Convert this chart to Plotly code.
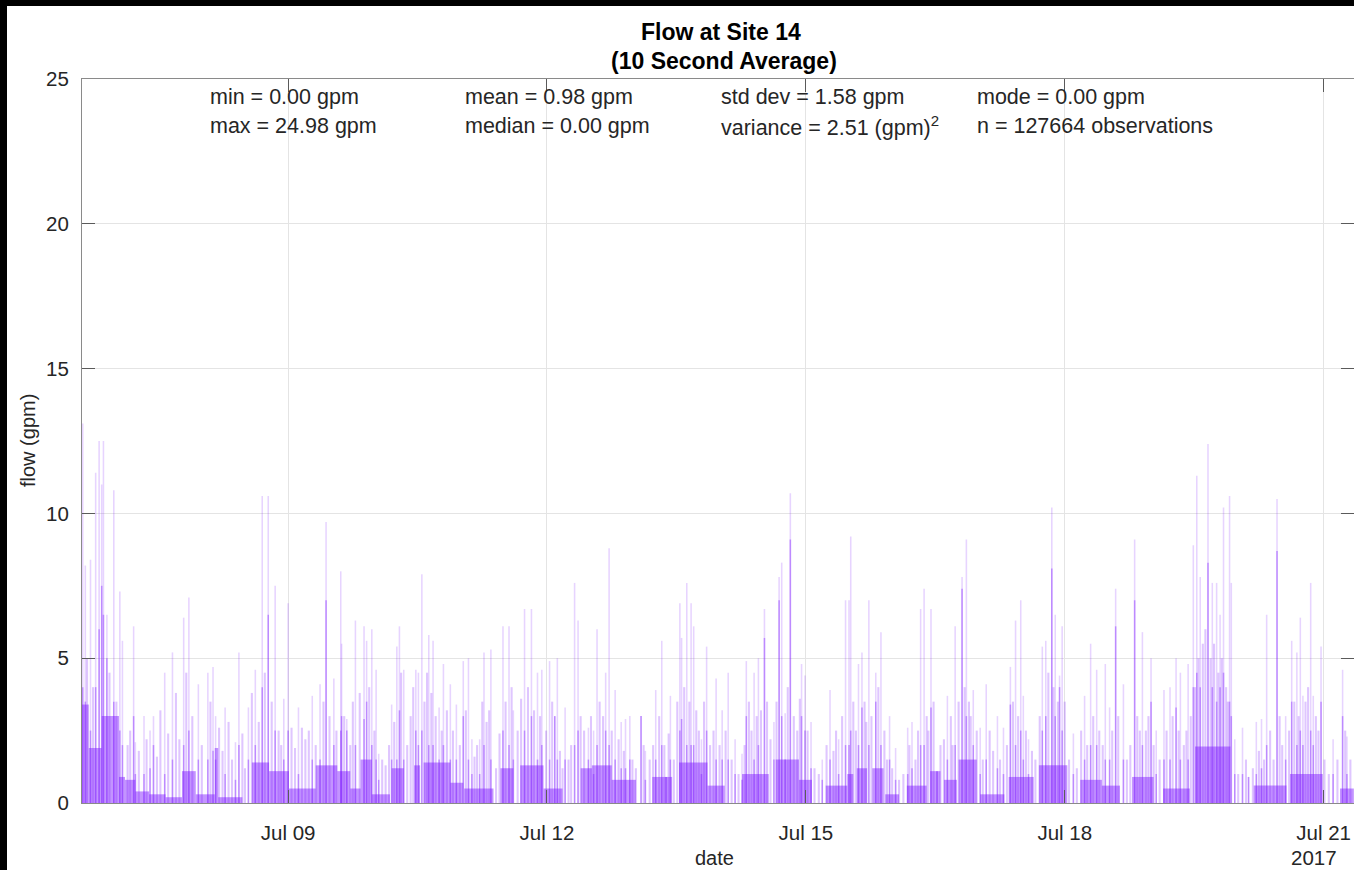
import numpy as np
import pandas as pd
import plotly.graph_objects as go

# ---------------- data ----------------
# prominent flow spikes: day of July (fractional), peak flow, denser core flow (gpm)
peak_day = [6.62, 6.65, 6.71, 6.77, 6.81, 6.84, 6.86, 6.90, 6.98, 7.05, 7.08, 7.21, 7.23, 7.33, 7.40,
            7.44, 7.57, 7.66, 7.79, 7.85, 7.96, 8.07, 8.13, 8.16, 8.27, 8.39, 8.43, 8.54, 8.62, 8.70,
            8.77, 8.85, 8.95, 9.00, 9.12, 9.28, 9.37, 9.44, 9.53,
            9.61, 9.62, 9.68, 9.78, 9.88, 9.91, 9.97, 10.02, 10.05, 10.20, 10.26, 10.29, 10.34, 10.48,
            10.51, 10.55, 10.63, 10.68, 10.75, 10.80, 10.88, 10.95, 11.03, 11.09, 11.13, 11.22, 11.27,
            11.35, 11.49, 11.56, 11.61, 11.74, 11.82, 11.89, 11.94, 12.03, 12.09, 12.12, 12.21, 12.32,
            12.36, 12.48,
            12.54, 12.58, 12.68, 12.72, 12.79, 12.86, 12.91, 12.96, 13.09, 13.14, 13.26, 13.33, 13.38,
            13.43, 13.54, 13.56, 13.62, 13.67, 13.70, 13.79, 13.85, 13.96, 14.03, 14.10, 14.18, 14.26,
            14.31, 14.40, 14.45, 14.52, 14.63, 14.69, 14.72, 14.76, 14.82, 14.95, 14.99, 15.06, 15.19,
            15.28, 15.38, 15.46,
            15.50, 15.52, 15.61, 15.65, 15.73, 15.81, 15.87, 15.97, 16.04, 16.18, 16.23, 16.33, 16.37,
            16.45, 16.52, 16.64, 16.73, 16.81, 16.86, 16.94, 17.02, 17.09, 17.22, 17.29, 17.37, 17.43,
            17.49, 17.52, 17.58, 17.74, 17.78, 17.85, 17.89, 17.94, 17.97, 18.10, 18.23, 18.30, 18.37,
            18.47, 18.52, 18.59, 18.68, 18.81, 18.90, 19.00, 19.06, 19.15, 19.22, 19.29, 19.34, 19.43,
            19.49, 19.53, 19.57, 19.66, 19.71, 19.76, 19.80, 19.84, 19.91, 19.93, 19.97, 20.06, 20.13,
            20.22, 20.28, 20.34, 20.46, 20.56, 20.63, 20.69, 20.73, 20.76, 20.85, 20.88, 20.97, 21.11,
            21.22, 21.27]
peak_flow = [13.1, 8.2, 8.4, 11.4, 12.5, 11.0, 12.5, 6.5, 10.8, 7.3, 5.6, 6.1, 2.1, 3.0, 2.5,
             3.0, 4.5, 5.2, 6.4, 7.1, 4.1, 4.5, 4.7, 3.0, 3.3, 2.1, 5.2, 3.3, 4.6, 10.6,
             10.6, 7.5, 3.6, 6.9, 3.3, 3.7, 4.1, 9.7, 4.3,
             8.0, 5.5, 2.9, 6.3, 6.1, 5.6, 6.0, 4.6, 1.7, 3.4, 5.4, 6.1, 4.6, 4.6,
             4.5, 7.9, 5.8, 5.6, 3.3, 4.8, 4.1, 3.4, 4.9, 5.0, 2.2, 2.2, 5.2,
             5.3, 6.1, 6.1, 3.2, 6.7, 6.7, 4.5, 4.6, 4.9, 3.0, 5.0, 3.3, 7.6,
             6.3, 2.6,
             2.5, 6.0, 4.5, 8.8, 3.9, 2.8, 2.9, 3.0, 3.0, 1.8, 3.9, 5.6, 0.9,
             3.7, 6.9, 5.7, 7.6, 6.9, 6.1, 2.2, 5.4, 4.3, 3.2, 4.5, 2.2, 1.7,
             4.9, 4.5, 5.0, 6.7, 2.8, 7.8, 8.3, 3.1, 10.7, 4.8, 4.4, 2.8, 1.5,
             3.9, 2.2, 7.0,
             7.0, 9.2, 4.8, 5.2, 7.0, 4.5, 5.9, 3.0, 1.9, 2.6, 2.8, 6.7, 7.4,
             6.7, 1.1, 3.7, 6.1, 7.8, 9.1, 3.9, 2.6, 4.1, 3.0, 2.6, 4.7, 6.3,
             7.0, 3.7, 2.2, 5.4, 5.6, 10.2, 6.5, 4.4, 6.1, 2.4, 3.7, 5.5, 4.6,
             4.8, 3.3, 7.4, 4.1, 9.1, 5.9, 5.0, 2.5, 3.9, 4.0, 5.0, 4.5, 4.8,
             8.9, 11.3, 7.8, 12.4, 7.6, 7.6, 6.5, 10.2, 10.6, 7.6, 2.2, 2.6, 0.9,
             2.8, 2.9, 6.5, 10.5, 3.0, 5.6, 5.2, 6.4, 3.7, 7.6, 3.7, 5.4, 2.2,
             4.6, 2.3]
core_flow = [4.0, 3.5, 2.5, 4.0, 6.0, 7.5, 6.5, 5.0, 3.5, 2.5, 2.0, 3.0, 1.0, 1.0, 1.2,
             2.0, 1.0, 1.5, 2.0, 2.5, 1.5, 1.5, 1.8, 1.5, 1.0, 0.8, 2.0, 1.5, 2.0, 4.0,
             6.5, 2.5, 1.5, 2.5, 1.0, 1.5, 1.5, 7.0, 2.0,
             2.5, 3.0, 2.5, 2.0, 2.9, 3.5, 2.0, 1.5, 0.8, 1.5, 1.5, 3.2, 1.5, 2.5,
             2.0, 2.5, 2.0, 2.0, 1.5, 2.0, 1.5, 1.5, 3.0, 1.5, 1.0, 1.0, 2.0,
             1.5, 2.5, 2.0, 1.5, 2.5, 3.0, 1.5, 2.0, 1.5, 3.0, 1.5, 1.5, 2.0,
             2.5, 1.5,
             1.0, 2.0, 2.5, 2.0, 1.5, 1.2, 1.2, 1.5, 3.0, 0.8, 1.5, 2.0, 0.9,
             1.5, 2.5, 2.9, 2.0, 2.0, 2.0, 1.0, 2.5, 1.5, 1.5, 1.5, 1.0, 0.8,
             3.0, 1.5, 2.0, 5.7, 1.5, 7.0, 3.0, 1.5, 9.1, 3.0, 2.5, 1.2, 0.8,
             1.5, 1.0, 2.0,
             2.0, 2.5, 2.0, 3.3, 2.0, 3.5, 2.0, 1.5, 0.8, 1.0, 1.2, 2.0, 2.0,
             3.3, 1.1, 1.5, 2.0, 7.4, 3.0, 2.0, 1.0, 1.5, 1.2, 1.0, 3.4, 2.0,
             2.5, 1.5, 1.0, 2.5, 3.0, 8.1, 3.0, 4.0, 2.5, 1.0, 1.5, 2.0, 2.0,
             1.5, 1.5, 6.1, 1.5, 7.0, 2.0, 3.5, 1.0, 1.5, 1.5, 3.3, 1.5, 1.5,
             4.0, 4.5, 4.0, 8.3, 4.0, 3.5, 4.0, 4.5, 3.5, 3.0, 1.0, 1.0, 0.9,
             1.0, 1.2, 2.0, 8.7, 1.5, 3.5, 2.0, 2.5, 2.0, 2.5, 2.0, 3.5, 1.0,
             3.0, 1.0]

# smaller flow events between the prominent spikes: day of July, flow (gpm)
minor_day = [6.67, 6.74, 6.93, 7.01, 7.14, 7.17, 7.27, 7.36, 7.48, 7.52, 7.61, 7.70, 7.74, 7.82,
             7.89, 8.00, 8.10, 8.20, 8.24, 8.31, 8.35, 8.47, 8.50, 8.58, 8.66, 8.73, 8.81, 8.89,
             8.92, 9.04, 9.08, 9.16, 9.20, 9.24, 9.32, 9.41, 9.48, 9.56,
             9.65, 9.72, 9.75, 9.83, 9.94, 10.00, 10.09, 10.13, 10.17, 10.23, 10.31, 10.38, 10.42,
             10.45, 10.58, 10.61, 10.66, 10.71, 10.78, 10.84, 10.91, 10.99, 11.06, 11.16, 11.19,
             11.25, 11.30, 11.33, 11.41, 11.45, 11.52, 11.59, 11.66, 11.70, 11.78, 11.85, 11.92,
             11.99, 12.06, 12.15, 12.18, 12.25, 12.28, 12.39, 12.43, 12.51,
             12.61, 12.65, 12.75, 12.83, 12.89, 12.99, 13.03, 13.12, 13.19, 13.23, 13.30, 13.36,
             13.41, 13.47, 13.51, 13.59, 13.65, 13.73, 13.76, 13.82, 13.89, 13.93, 14.00, 14.07,
             14.14, 14.22, 14.29, 14.34, 14.37, 14.43, 14.48, 14.55, 14.59, 14.66, 14.79, 14.86,
             14.90, 14.93, 15.02, 15.10, 15.15, 15.24, 15.32, 15.35, 15.42,
             15.55, 15.58, 15.68, 15.70, 15.76, 15.84, 15.91, 15.94, 16.00, 16.08, 16.13, 16.20,
             16.27, 16.30, 16.40, 16.42, 16.48, 16.56, 16.60, 16.68, 16.70, 16.77, 16.84, 16.89,
             16.91, 16.98, 17.05, 17.13, 17.17, 17.25, 17.33, 17.40, 17.46, 17.55, 17.62, 17.66,
             17.71, 17.81, 17.87, 17.92, 18.00, 18.05, 18.14, 18.19, 18.26, 18.33, 18.40,
             18.44, 18.55, 18.62, 18.72, 18.76, 18.84, 18.87, 18.94, 18.97, 19.03, 19.10, 19.18,
             19.25, 19.32, 19.38, 19.41, 19.46, 19.51, 19.55, 19.60, 19.63, 19.69, 19.73, 19.78,
             19.82, 19.87, 19.89, 20.01, 20.10, 20.18, 20.25, 20.31, 20.38, 20.42, 20.49, 20.52,
             20.60, 20.66, 20.71, 20.79, 20.82, 20.91, 20.94, 21.01, 21.06, 21.16, 21.25, 21.31]
minor_flow = [5.0, 4.0, 4.5, 3.5, 2.0, 2.5, 1.8, 2.2, 1.6, 3.2, 2.4, 3.8, 2.2, 4.5,
              3.0, 2.0, 3.5, 2.6, 1.8, 2.8, 1.5, 2.4, 1.2, 3.8, 2.8, 4.5, 3.5, 2.5,
              2.0, 2.6, 1.9, 2.6, 2.2, 2.5, 2.0, 3.5, 3.0, 2.5,
              3.0, 2.0, 3.5, 3.8, 4.0, 2.5, 1.5, 1.3, 2.0, 2.8, 4.5, 2.0, 3.0,
              4.0, 3.5, 4.5, 3.8, 3.0, 2.5, 3.2, 2.5, 2.0, 3.2, 1.6, 2.0,
              3.5, 2.8, 3.2, 1.2, 2.4, 3.5, 4.0, 2.5, 3.6, 4.0, 3.2, 3.0,
              2.5, 3.5, 1.8, 1.2, 1.5, 2.0, 3.0, 2.5, 3.0,
              3.5, 3.0, 2.5, 2.2, 1.8, 1.5, 1.2, 2.0, 1.5, 2.0, 3.0, 2.0,
              2.4, 1.5, 3.5, 4.0, 3.5, 3.2, 2.5, 3.5, 2.0, 2.5, 2.0, 2.5,
              1.5, 1.0, 2.0, 3.5, 2.5, 3.0, 3.2, 3.5, 2.2, 3.5, 4.0, 3.0,
              2.5, 3.6, 2.5, 1.2, 1.0, 2.0, 1.8, 2.5, 3.0,
              3.5, 2.5, 3.5, 2.8, 3.0, 4.0, 2.5, 1.5, 1.2, 0.8, 1.0, 2.0,
              1.5, 2.5, 3.0, 2.5, 3.5, 2.0, 2.2, 3.0, 2.0, 3.5, 4.0, 3.5,
              3.0, 2.5, 1.5, 2.5, 1.8, 1.5, 2.0, 3.5, 3.0, 2.5, 1.8, 1.5,
              3.0, 4.5, 4.0, 3.5, 3.5, 1.5, 1.2, 2.5, 2.0, 3.0, 2.5,
              2.0, 2.5, 3.0, 1.5, 2.0, 3.0, 2.5, 2.5, 3.0, 2.0, 1.5, 2.5,
              3.0, 2.5, 2.0, 2.5, 3.0, 4.0, 5.0, 5.5, 6.0, 5.0, 5.5, 4.5,
              5.0, 4.0, 3.5, 1.0, 1.5, 1.2, 1.8, 1.5, 2.5, 1.5, 3.0, 2.0,
              2.5, 3.5, 3.0, 3.5, 4.0, 3.0, 2.5, 1.5, 1.0, 1.5, 2.5, 1.5]

# periods of sustained low flow: start day, end day, dense level (gpm)
base_start = [6.61, 6.69, 6.84, 7.04, 7.11, 7.23, 7.39, 7.58, 7.77, 7.93, 8.15, 8.19, 8.58, 8.78,
              9.01, 9.32, 9.57, 9.72, 9.84, 9.97, 10.20, 10.46, 10.57, 10.88, 11.04, 11.46, 11.69,
              11.96, 12.39, 12.52, 12.75, 13.22, 13.53, 13.86, 14.26, 14.65, 14.92, 15.23, 15.48,
              15.59, 15.77, 15.92, 16.17, 16.44, 16.60, 16.77, 17.02, 17.35, 17.70, 18.18, 18.43,
              18.78, 19.14, 19.51, 20.19, 20.61, 21.19]
base_end = [6.69, 6.84, 7.04, 7.11, 7.23, 7.39, 7.58, 7.77, 7.93, 8.15, 8.19, 8.47, 8.78, 9.01,
            9.32, 9.57, 9.72, 9.84, 9.97, 10.18, 10.34, 10.53, 10.88, 11.03, 11.38, 11.61, 11.96,
            12.18, 12.52, 12.75, 13.03, 13.45, 13.86, 14.06, 14.57, 14.92, 15.07, 15.48, 15.55,
            15.71, 15.90, 16.08, 16.40, 16.56, 16.75, 16.98, 17.30, 17.64, 18.03, 18.43, 18.64,
            19.03, 19.45, 19.92, 20.57, 20.99, 21.35]
base_flow = [3.4, 1.9, 3.0, 0.9, 0.8, 0.4, 0.3, 0.2, 1.1, 0.3, 1.9, 0.2, 1.4, 1.1,
             0.5, 1.3, 1.1, 0.5, 1.5, 0.3, 1.2, 1.3, 1.4, 0.7, 0.5, 1.2, 1.3,
             0.5, 1.2, 1.3, 0.8, 0.9, 1.4, 0.6, 1.0, 1.5, 0.8, 0.6, 1.0,
             1.2, 1.2, 0.3, 0.6, 1.1, 0.8, 1.5, 0.3, 0.9, 1.3, 0.8, 0.6,
             0.9, 0.5, 1.95, 0.6, 1.0, 0.5]

stats_row1 = ["min = 0.00 gpm", "mean = 0.98 gpm", "std dev = 1.58 gpm", "mode = 0.00 gpm"]
stats_row2 = ["max = 24.98 gpm", "median = 0.00 gpm", "variance = 2.51 (gpm)<sup>2</sup>",
              "n = 127664 observations"]
tick_days = [9, 12, 15, 18, 21]
tick_text = ["Jul 09", "Jul 12", "Jul 15", "Jul 18", "Jul 21"]
y_ticks = [0, 5, 10, 15, 20, 25]


def to_dt(d):
    return pd.Timestamp("2017-07-01") + pd.to_timedelta(np.asarray(d, dtype=float) - 1.0, unit="D")


# ---------------- figure ----------------
W, H = 1354, 870
L, R, T, B = 82, 0, 79, 67
PW, PH = W - L - R, H - T - B


def px(x):
    return (x - L) / PW


def py(y):
    return (H - B - y) / PH


PURPLE = "122,18,255"
DAY_MS = 86400000.0

bs = np.array(base_start)
be = np.array(base_end)
centers = to_dt((bs + be) / 2)
widths = (be - bs) * DAY_MS


def bars(x, y, w, alpha):
    return go.Bar(x=x, y=y, width=w,
                  marker=dict(color=f"rgba({PURPLE},{alpha})", line=dict(width=0)),
                  hoverinfo="skip", showlegend=False)


fig = go.Figure()
fig.add_trace(bars(centers, base_flow, widths, 0.45))
fig.add_trace(bars(to_dt(minor_day), minor_flow, 0.024 * DAY_MS, 0.24))
fig.add_trace(bars(to_dt(peak_day), peak_flow, 0.018 * DAY_MS, 0.18))
fig.add_trace(bars(to_dt(peak_day), core_flow, 0.018 * DAY_MS, 0.38))

FONT = "Liberation Sans, Arial, Helvetica, sans-serif"
TXT = "#262626"

fig.update_layout(
    width=W, height=H, margin=dict(l=L, r=R, t=T, b=B),
    paper_bgcolor="white", plot_bgcolor="white",
    barmode="overlay", showlegend=False,
    font=dict(family=FONT, color=TXT),
    xaxis=dict(type="date", range=[to_dt(6.6116), to_dt(21.352)],
               tickvals=to_dt(tick_days), ticktext=tick_text,
               ticks="inside", ticklen=13, tickcolor="#5a5a5a", tickwidth=1,
               showline=True, linecolor="#8a8a8a", linewidth=1, mirror="ticks",
               showgrid=True, gridcolor="#e4e4e4", gridwidth=1, zeroline=False,
               tickfont=dict(size=20.5, color=TXT, family=FONT), ticklabelstandoff=11),
    yaxis=dict(range=[0, 25], tickvals=y_ticks,
               ticks="inside", ticklen=13, tickcolor="#5a5a5a", tickwidth=1,
               showline=True, linecolor="#8a8a8a", linewidth=1, mirror="ticks",
               showgrid=True, gridcolor="#e4e4e4", gridwidth=1, zeroline=False,
               tickfont=dict(size=20.5, color=TXT, family=FONT), ticklabelstandoff=8),
)

ann = []
col_x = [208, 463, 719, 975]
for i in range(4):
    ann.append(dict(x=px(col_x[i]), y=py(97), xref="paper", yref="paper", text=stats_row1[i],
                    xanchor="left", yanchor="middle", showarrow=False,
                    font=dict(size=21.5, color=TXT, family=FONT)))
    ann.append(dict(x=px(col_x[i]), y=py(126), xref="paper", yref="paper", text=stats_row2[i],
                    xanchor="left", yanchor="middle", showarrow=False,
                    font=dict(size=21.5, color=TXT, family=FONT)))
ann.append(dict(x=px(721), y=py(32), xref="paper", yref="paper", text="<b>Flow at Site 14</b>",
                xanchor="center", yanchor="middle", showarrow=False,
                font=dict(size=23, color="#000000", family=FONT)))
ann.append(dict(x=px(724), y=py(61), xref="paper", yref="paper", text="<b>(10 Second Average)</b>",
                xanchor="center", yanchor="middle", showarrow=False,
                font=dict(size=23, color="#000000", family=FONT)))
ann.append(dict(x=px(28), y=py(441), xref="paper", yref="paper", text="flow (gpm)",
                textangle=-90, xanchor="center", yanchor="middle", showarrow=False,
                font=dict(size=20, color=TXT, family=FONT)))
ann.append(dict(x=px(714), y=py(858), xref="paper", yref="paper", text="date",
                xanchor="center", yanchor="middle", showarrow=False,
                font=dict(size=20, color=TXT, family=FONT)))
ann.append(dict(x=px(1314), y=py(857), xref="paper", yref="paper", text="2017",
                xanchor="center", yanchor="middle", showarrow=False,
                font=dict(size=20.5, color=TXT, family=FONT)))
fig.update_layout(annotations=ann)

# black frame strips of the original screenshot (top and left edges)
fig.add_shape(type="rect", xref="paper", yref="paper", x0=px(-5), x1=px(7), y0=py(H + 5), y1=py(-5),
              fillcolor="black", line=dict(width=0), layer="above")
fig.add_shape(type="rect", xref="paper", yref="paper", x0=px(-5), x1=px(W + 5), y0=py(6), y1=py(-5),
              fillcolor="black", line=dict(width=0), layer="above")

fig.write_html("out.html")
